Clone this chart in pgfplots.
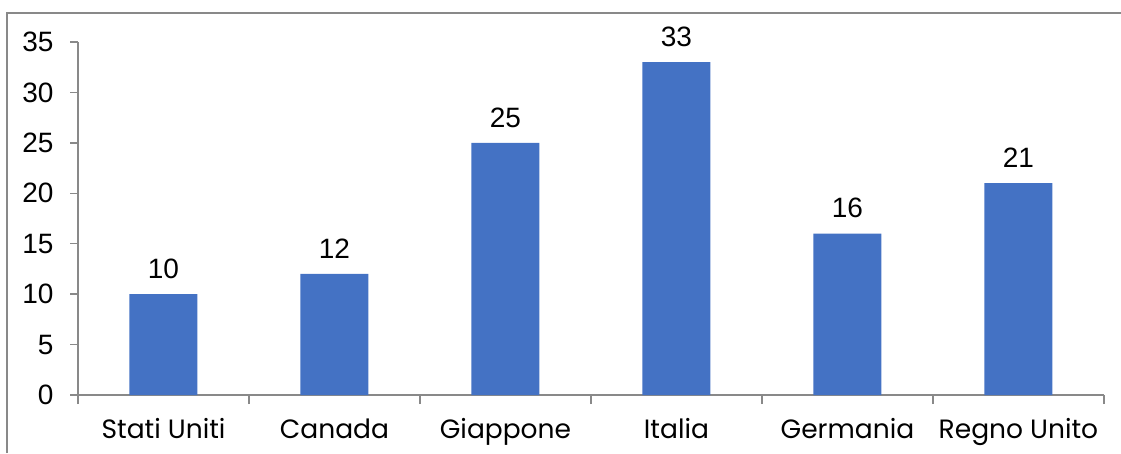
\documentclass[border=0pt]{standalone}
\usepackage{pgfplots}
\pgfplotsset{compat=1.18}
\usepackage{fontspec}
\setmainfont{Liberation Sans}
\newfontfamily\catfont{Poppins}
\definecolor{barblue}{HTML}{4472C4}
\definecolor{axisgray}{HTML}{898989}
\begin{document}
\begin{tikzpicture}[x=1pt,y=1pt]
\useasboundingbox (0,0) rectangle (1121,453);
% outer chart frame
\draw[axisgray, line width=1.6pt] (7,0) -- (7,440) -- (1121,440);
\begin{axis}[
  at={(78pt,58pt)}, anchor=south west,
  scale only axis=true,
  width=1026pt, height=353pt,
  xmin=-0.5, xmax=5.5,
  ymin=0, ymax=35,
  ytick={0,5,...,35},
  xtick={0,...,5},
  xticklabels={Stati Uniti,Canada,Giappone,Italia,Germania,Regno Unito},
  minor xtick={-0.5,0.5,...,5.5},
  major x tick style={draw=none},
  tick align=outside,
  major tick length=8pt,
  minor tick length=9pt,
  axis x line*=bottom,
  axis y line*=left,
  axis line style={axisgray, line width=1.3pt},
  every tick/.style={axisgray, line width=1.3pt},
  y tick style={axisgray, line width=1.3pt},
  /pgf/number format/assume math mode=true,
  yticklabel style={font=\fontsize{28}{30}\selectfont, black, xshift=-13pt},
  xticklabel style={font=\catfont\fontsize{26.5}{28}\selectfont, black, yshift=-12pt},
  ybar,
  bar width=68pt,
  nodes near coords,
  every node near coord/.style={font=\fontsize{28}{30}\selectfont, black, yshift=12pt},
  clip=false,
]
\addplot[fill=barblue, draw=none] coordinates {
  (0,10) (1,12) (2,25) (3,33) (4,16) (5,21)
};
\end{axis}
\end{tikzpicture}
\end{document}
